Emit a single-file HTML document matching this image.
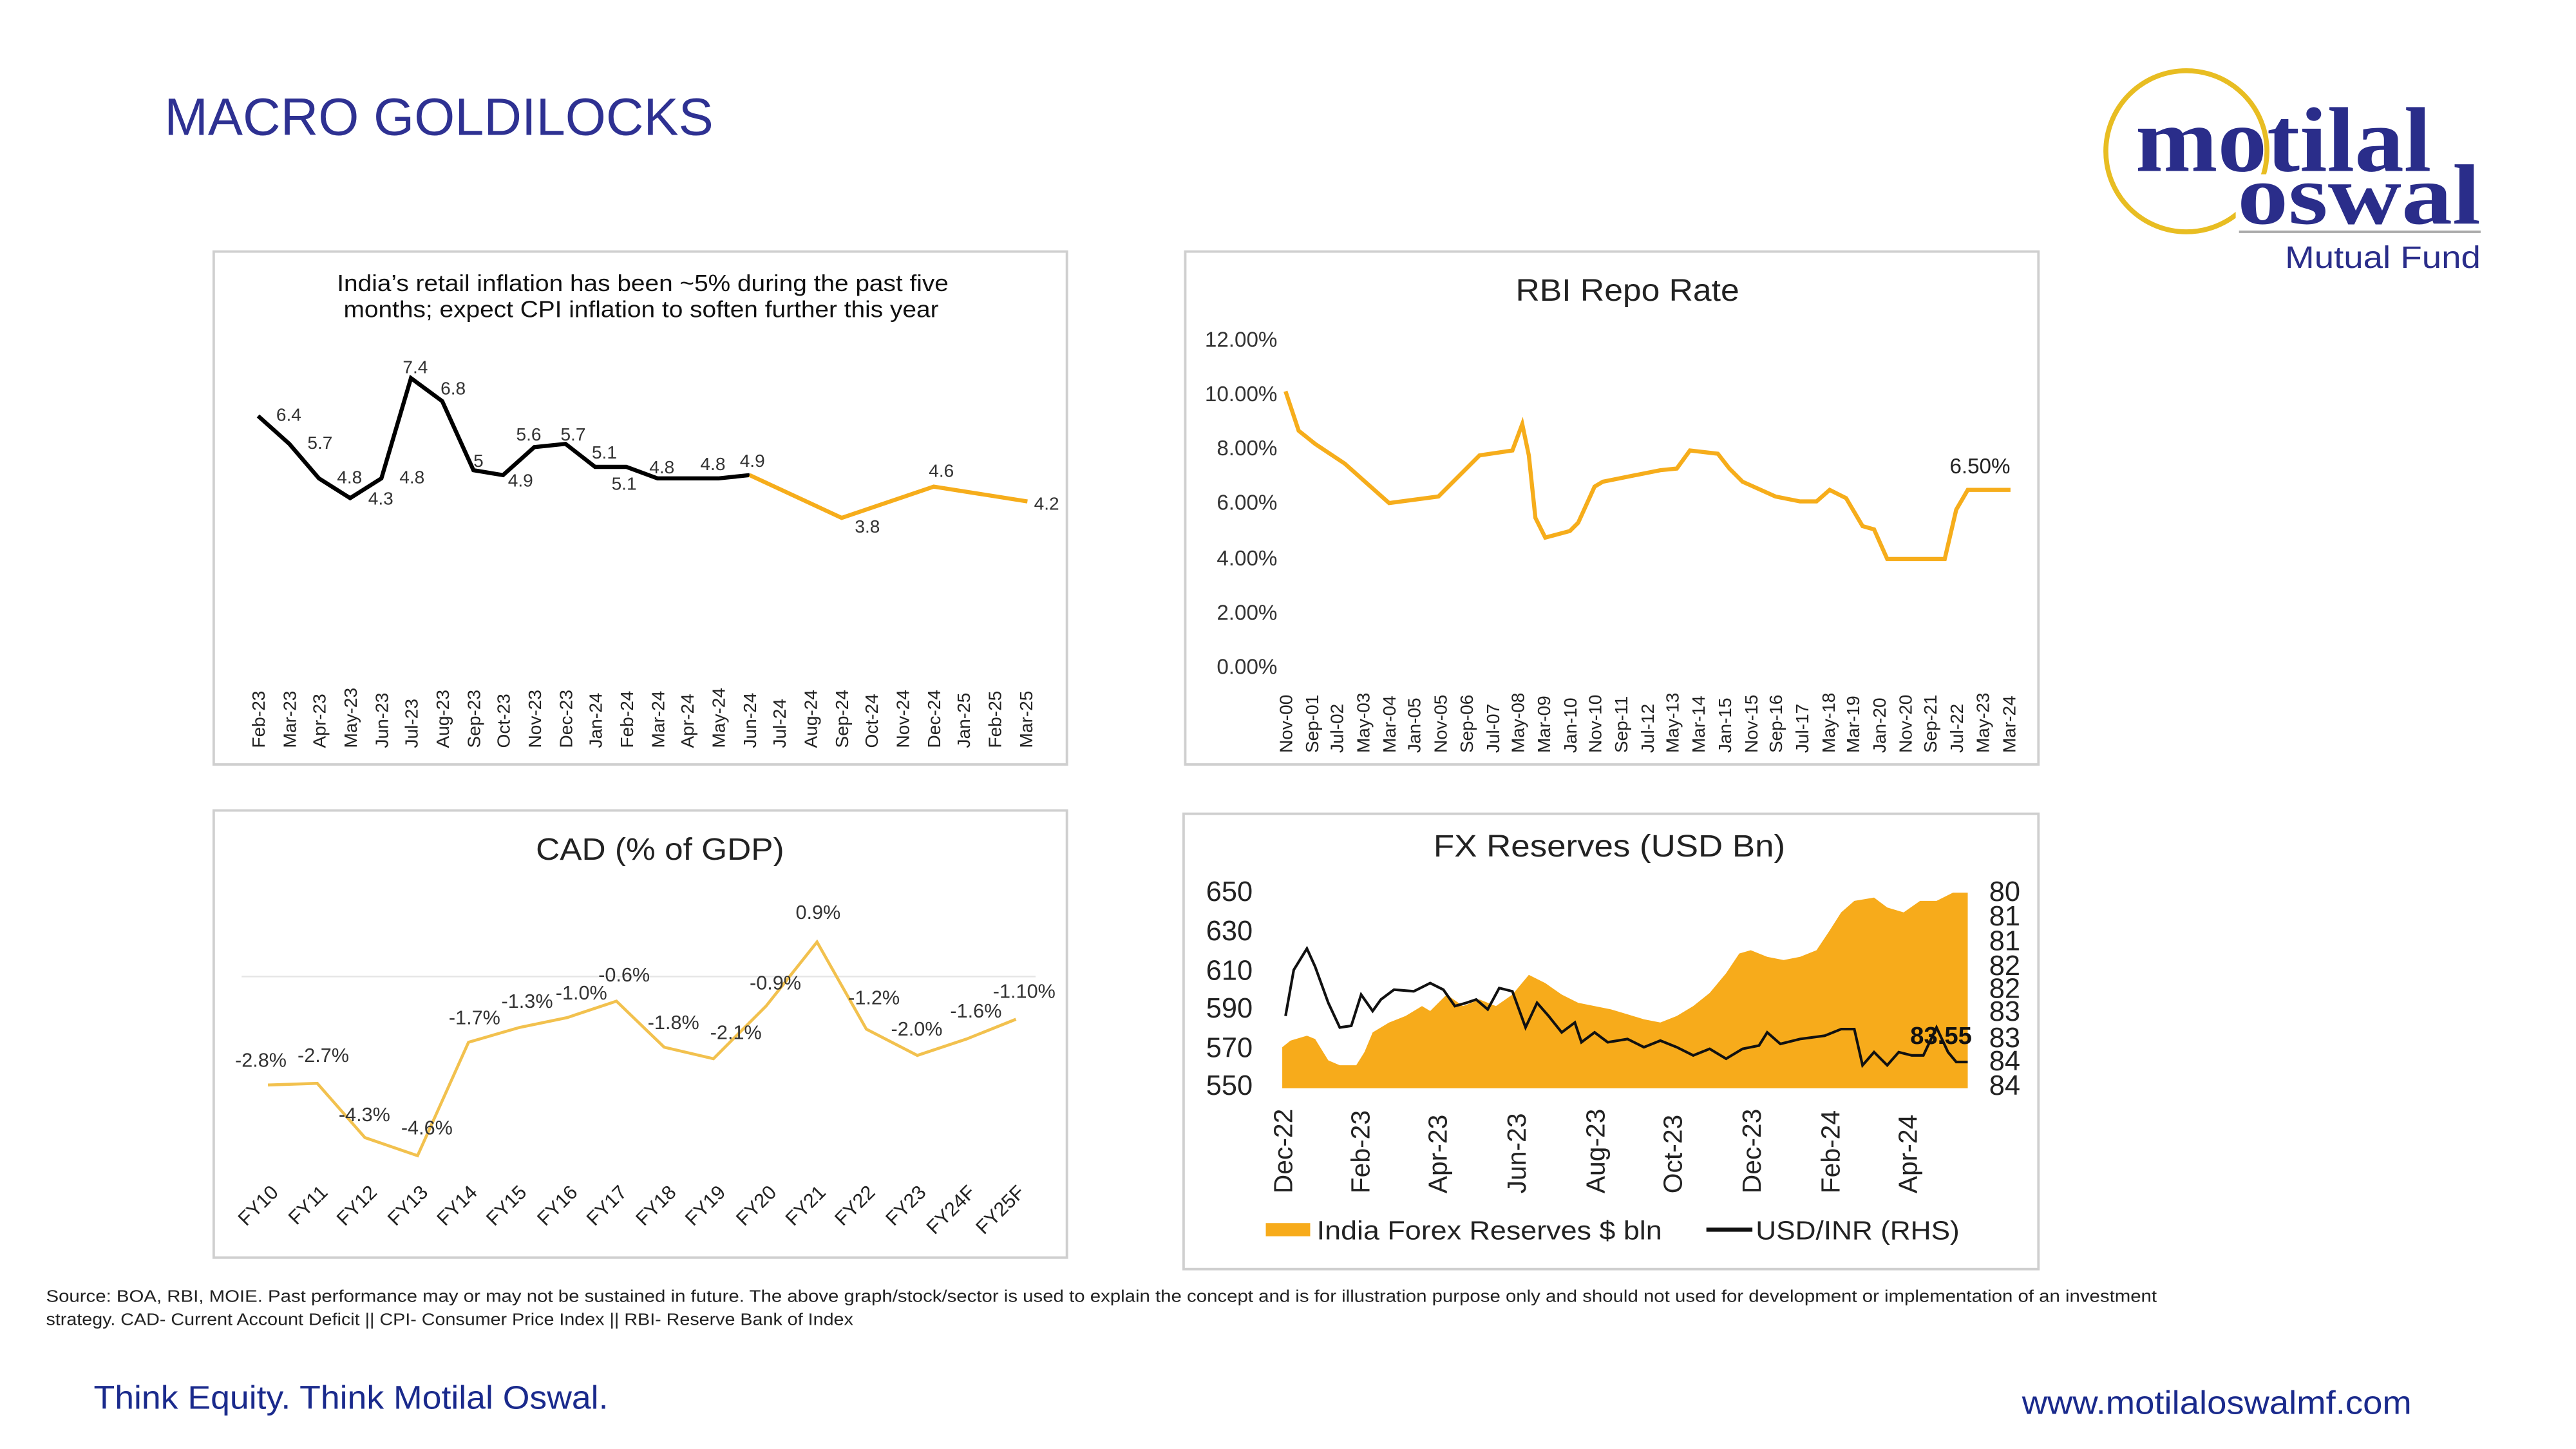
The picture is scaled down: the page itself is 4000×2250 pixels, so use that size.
<!DOCTYPE html>
<html><head><meta charset="utf-8"><style>
html,body{margin:0;padding:0;background:#fff}
svg{display:block}
text{font-family:"Liberation Sans",sans-serif}
text.serif{font-family:"Liberation Serif",serif}
</style></head><body>
<svg width="4000" height="2250" viewBox="0 0 1567 881.4" xmlns="http://www.w3.org/2000/svg">
<rect width="1567" height="882" fill="#fff"/>
<text x="100" y="82" font-size="32" fill="#2e3192" textLength="334" lengthAdjust="spacingAndGlyphs">MACRO GOLDILOCKS</text>

<!-- Logo -->
<circle cx="1330" cy="92" r="49" fill="none" stroke="#e8bd22" stroke-width="3"/>
<rect x="1360" y="106" width="25" height="30" fill="#fff"/>
<text class="serif" x="1299" y="104" font-size="56" font-weight="bold" fill="#2a2d8a" textLength="180" lengthAdjust="spacingAndGlyphs">motilal</text>
<text class="serif" x="1361" y="136" font-size="52" font-weight="bold" fill="#2a2d8a" textLength="148" lengthAdjust="spacingAndGlyphs">oswal</text>
<line x1="1362" y1="141" x2="1509" y2="141" stroke="#aaa" stroke-width="1.5"/>
<text x="1390" y="163" font-size="19" fill="#2a2d8a" textLength="119" lengthAdjust="spacingAndGlyphs">Mutual Fund</text>

<!-- Panels -->
<g fill="#fff" stroke="#cfcfcf" stroke-width="1.5">
<rect x="130" y="153" width="519" height="312"/>
<rect x="721" y="153" width="519" height="312"/>
<rect x="130" y="493" width="519" height="272"/>
<rect x="720" y="495" width="520" height="277"/>
</g>

<!-- P1 CPI -->
<text x="205" y="177" font-size="14" fill="#111" textLength="372" lengthAdjust="spacingAndGlyphs">India’s retail inflation has been ~5% during the past five</text>
<text x="209" y="193" font-size="14" fill="#111" textLength="362" lengthAdjust="spacingAndGlyphs">months; expect CPI inflation to soften further this year</text>
<polyline fill="none" stroke="#000" stroke-width="2.5" points="157,253 176,270 194,291 213,303 232,291 250,230 269,244 288,286 306,289 325,272 344,270 362,284 381,284 400,291 418,291 437,291 456,289"/>
<polyline fill="none" stroke="#f6ad1b" stroke-width="2.5" points="456,289 512,315 568,296 625,305"/>
<g font-size="11" fill="#333">
<text x="168" y="256">6.4</text><text x="187" y="273">5.7</text><text x="205" y="294">4.8</text><text x="224" y="307">4.3</text>
<text x="243" y="294">4.8</text><text x="245" y="227">7.4</text><text x="268" y="240">6.8</text><text x="288" y="284">5</text>
<text x="309" y="296">4.9</text><text x="314" y="268">5.6</text><text x="341" y="268">5.7</text><text x="360" y="279">5.1</text>
<text x="372" y="298">5.1</text><text x="395" y="288">4.8</text><text x="426" y="286">4.8</text><text x="450" y="284">4.9</text>
<text x="520" y="324">3.8</text><text x="565" y="290">4.6</text><text x="629" y="310">4.2</text>
</g>
<g font-size="11" fill="#222">
<text transform="translate(161,455) rotate(-90)">Feb-23</text><text transform="translate(180,455) rotate(-90)">Mar-23</text>
<text transform="translate(198,455) rotate(-90)">Apr-23</text><text transform="translate(217,455) rotate(-90)">May-23</text>
<text transform="translate(236,455) rotate(-90)">Jun-23</text><text transform="translate(254,455) rotate(-90)">Jul-23</text>
<text transform="translate(273,455) rotate(-90)">Aug-23</text><text transform="translate(292,455) rotate(-90)">Sep-23</text>
<text transform="translate(310,455) rotate(-90)">Oct-23</text><text transform="translate(329,455) rotate(-90)">Nov-23</text>
<text transform="translate(348,455) rotate(-90)">Dec-23</text><text transform="translate(366,455) rotate(-90)">Jan-24</text>
<text transform="translate(385,455) rotate(-90)">Feb-24</text><text transform="translate(404,455) rotate(-90)">Mar-24</text>
<text transform="translate(422,455) rotate(-90)">Apr-24</text><text transform="translate(441,455) rotate(-90)">May-24</text>
<text transform="translate(460,455) rotate(-90)">Jun-24</text><text transform="translate(478,455) rotate(-90)">Jul-24</text>
<text transform="translate(497,455) rotate(-90)">Aug-24</text><text transform="translate(516,455) rotate(-90)">Sep-24</text>
<text transform="translate(534,455) rotate(-90)">Oct-24</text><text transform="translate(553,455) rotate(-90)">Nov-24</text>
<text transform="translate(572,455) rotate(-90)">Dec-24</text><text transform="translate(590,455) rotate(-90)">Jan-25</text>
<text transform="translate(609,455) rotate(-90)">Feb-25</text><text transform="translate(628,455) rotate(-90)">Mar-25</text>
</g>

<!-- P2 Repo -->
<text x="922" y="183" font-size="19" fill="#222" textLength="136" lengthAdjust="spacingAndGlyphs">RBI Repo Rate</text>
<g font-size="13" fill="#333" text-anchor="end">
<text x="777" y="211">12.00%</text><text x="777" y="244">10.00%</text><text x="777" y="277">8.00%</text>
<text x="777" y="310">6.00%</text><text x="777" y="344">4.00%</text><text x="777" y="377">2.00%</text><text x="777" y="410">0.00%</text>
</g>
<polyline fill="none" stroke="#f6ad1b" stroke-width="2.5" points="782,238 790,262 800,270 818,282 845,306 875,302 900,277 920,274 926,258 930,277 934,315 940,327 955,323 960,318 970,296 975,293 1010,286 1020,285 1028,274 1045,276 1052,285 1060,293 1080,302 1095,305 1105,305 1113,298 1123,303 1133,320 1140,322 1148,340 1183,340 1190,310 1197,298 1223,298"/>
<text x="1186" y="288" font-size="13" fill="#222">6.50%</text>
<g font-size="11" fill="#222">
<text transform="translate(786,458) rotate(-90)">Nov-00</text><text transform="translate(802,458) rotate(-90)">Sep-01</text>
<text transform="translate(817,458) rotate(-90)">Jul-02</text><text transform="translate(833,458) rotate(-90)">May-03</text>
<text transform="translate(849,458) rotate(-90)">Mar-04</text><text transform="translate(864,458) rotate(-90)">Jan-05</text>
<text transform="translate(880,458) rotate(-90)">Nov-05</text><text transform="translate(896,458) rotate(-90)">Sep-06</text>
<text transform="translate(912,458) rotate(-90)">Jul-07</text><text transform="translate(927,458) rotate(-90)">May-08</text>
<text transform="translate(943,458) rotate(-90)">Mar-09</text><text transform="translate(959,458) rotate(-90)">Jan-10</text>
<text transform="translate(974,458) rotate(-90)">Nov-10</text><text transform="translate(990,458) rotate(-90)">Sep-11</text>
<text transform="translate(1006,458) rotate(-90)">Jul-12</text><text transform="translate(1021,458) rotate(-90)">May-13</text>
<text transform="translate(1037,458) rotate(-90)">Mar-14</text><text transform="translate(1053,458) rotate(-90)">Jan-15</text>
<text transform="translate(1069,458) rotate(-90)">Nov-15</text><text transform="translate(1084,458) rotate(-90)">Sep-16</text>
<text transform="translate(1100,458) rotate(-90)">Jul-17</text><text transform="translate(1116,458) rotate(-90)">May-18</text>
<text transform="translate(1131,458) rotate(-90)">Mar-19</text><text transform="translate(1147,458) rotate(-90)">Jan-20</text>
<text transform="translate(1163,458) rotate(-90)">Nov-20</text><text transform="translate(1178,458) rotate(-90)">Sep-21</text>
<text transform="translate(1194,458) rotate(-90)">Jul-22</text><text transform="translate(1210,458) rotate(-90)">May-23</text>
<text transform="translate(1226,458) rotate(-90)">Mar-24</text>
</g>

<!-- P3 CAD -->
<text x="326" y="523" font-size="19" fill="#222" textLength="151" lengthAdjust="spacingAndGlyphs">CAD (% of GDP)</text>
<line x1="147" y1="594" x2="630" y2="594" stroke="#e6e6e6" stroke-width="1"/>
<polyline fill="none" stroke="#f2c14e" stroke-width="1.8" points="163,660 193,659 222,692 254,703 285,634 316,625 345,619 375,609 404,637 434,644 466,612 497,573 527,626 558,642 588,632 618,620"/>
<g font-size="12" fill="#333">
<text x="143" y="649">-2.8%</text><text x="181" y="646">-2.7%</text><text x="206" y="682">-4.3%</text><text x="244" y="690">-4.6%</text>
<text x="273" y="623">-1.7%</text><text x="305" y="613">-1.3%</text><text x="338" y="608">-1.0%</text><text x="364" y="597">-0.6%</text>
<text x="394" y="626">-1.8%</text><text x="432" y="632">-2.1%</text><text x="456" y="602">-0.9%</text><text x="484" y="559">0.9%</text>
<text x="516" y="611">-1.2%</text><text x="542" y="630">-2.0%</text><text x="578" y="619">-1.6%</text><text x="604" y="607">-1.10%</text>
</g>
<g font-size="12" fill="#222" text-anchor="end">
<text transform="translate(170,726) rotate(-45)">FY10</text><text transform="translate(200,726) rotate(-45)">FY11</text>
<text transform="translate(230,726) rotate(-45)">FY12</text><text transform="translate(261,726) rotate(-45)">FY13</text>
<text transform="translate(291,726) rotate(-45)">FY14</text><text transform="translate(321,726) rotate(-45)">FY15</text>
<text transform="translate(352,726) rotate(-45)">FY16</text><text transform="translate(382,726) rotate(-45)">FY17</text>
<text transform="translate(412,726) rotate(-45)">FY18</text><text transform="translate(442,726) rotate(-45)">FY19</text>
<text transform="translate(473,726) rotate(-45)">FY20</text><text transform="translate(503,726) rotate(-45)">FY21</text>
<text transform="translate(533,726) rotate(-45)">FY22</text><text transform="translate(564,726) rotate(-45)">FY23</text>
<text transform="translate(594,726) rotate(-45)">FY24F</text><text transform="translate(624,726) rotate(-45)">FY25F</text>
</g>

<!-- P4 FX -->
<text x="872" y="521" font-size="19" fill="#222" textLength="214" lengthAdjust="spacingAndGlyphs">FX Reserves (USD Bn)</text>
<g font-size="17" fill="#222" text-anchor="end">
<text x="762" y="548">650</text><text x="762" y="572">630</text><text x="762" y="596">610</text>
<text x="762" y="619">590</text><text x="762" y="643">570</text><text x="762" y="666">550</text>
</g>
<g font-size="17" fill="#222">
<text x="1210" y="548">80</text><text x="1210" y="563">81</text><text x="1210" y="578">81</text><text x="1210" y="593">82</text>
<text x="1210" y="607">82</text><text x="1210" y="621">83</text><text x="1210" y="637">83</text><text x="1210" y="651">84</text><text x="1210" y="666">84</text>
</g>
<polygon fill="#f7ab1b" points="780,662 780,637 785,633 795,630 800,632 808,645 815,648 825,648 830,640 835,628 845,622 855,618 865,612 870,615 880,605 890,612 900,608 910,612 920,605 930,593 940,598 950,605 960,610 970,612 980,614 990,617 1000,620 1010,622 1020,618 1030,612 1040,604 1050,592 1058,580 1065,578 1075,582 1085,584 1095,582 1105,578 1113,566 1120,555 1128,548 1140,546 1148,552 1158,555 1168,548 1178,548 1188,543 1197,543 1197,662"/>
<polyline fill="none" stroke="#111" stroke-width="1.6" points="782,618 787,590 795,577 800,588 808,610 815,625 822,624 828,605 835,615 840,608 848,602 860,603 870,598 878,602 885,612 892,610 898,608 905,614 912,601 920,603 928,625 935,610 942,618 950,628 958,622 962,634 970,628 978,634 990,632 1000,637 1010,633 1020,637 1030,642 1040,638 1050,644 1060,638 1070,636 1075,628 1083,635 1095,632 1110,630 1120,626 1128,626 1133,648 1140,640 1148,648 1155,640 1163,642 1170,642 1178,625 1185,640 1190,646 1197,646"/>
<text x="1162" y="635" font-size="15" font-weight="bold" fill="#111">83.55</text>
<g font-size="16" fill="#222">
<text transform="translate(786,726) rotate(-90)">Dec-22</text><text transform="translate(833,726) rotate(-90)">Feb-23</text>
<text transform="translate(880,726) rotate(-90)">Apr-23</text><text transform="translate(928,726) rotate(-90)">Jun-23</text>
<text transform="translate(976,726) rotate(-90)">Aug-23</text><text transform="translate(1023,726) rotate(-90)">Oct-23</text>
<text transform="translate(1071,726) rotate(-90)">Dec-23</text><text transform="translate(1119,726) rotate(-90)">Feb-24</text>
<text transform="translate(1166,726) rotate(-90)">Apr-24</text>
</g>
<rect x="770" y="744" width="27" height="8" fill="#f7ab1b"/>
<text x="801" y="754" font-size="16" fill="#222" textLength="210" lengthAdjust="spacingAndGlyphs">India  Forex Reserves $ bln</text>
<line x1="1038" y1="748" x2="1066" y2="748" stroke="#111" stroke-width="2.5"/>
<text x="1068" y="754" font-size="16" fill="#222" textLength="124" lengthAdjust="spacingAndGlyphs">USD/INR (RHS)</text>

<!-- Footer -->
<text x="28" y="792" font-size="10" fill="#222" textLength="1284" lengthAdjust="spacingAndGlyphs">Source: BOA, RBI, MOIE. Past performance may or may not be sustained in future. The above graph/stock/sector is used to explain the concept and is for illustration purpose only and should not used for development or implementation of an investment</text>
<text x="28" y="806" font-size="10" fill="#222" textLength="491" lengthAdjust="spacingAndGlyphs">strategy. CAD- Current Account Deficit || CPI- Consumer Price Index || RBI- Reserve Bank of Index</text>
<text x="57" y="857" font-size="20" fill="#1a2a8c" textLength="313" lengthAdjust="spacingAndGlyphs">Think Equity. Think Motilal Oswal.</text>
<text x="1230" y="860" font-size="20" fill="#1a2a8c" textLength="237" lengthAdjust="spacingAndGlyphs">www.motilaloswalmf.com</text>
</svg>
</body></html>
